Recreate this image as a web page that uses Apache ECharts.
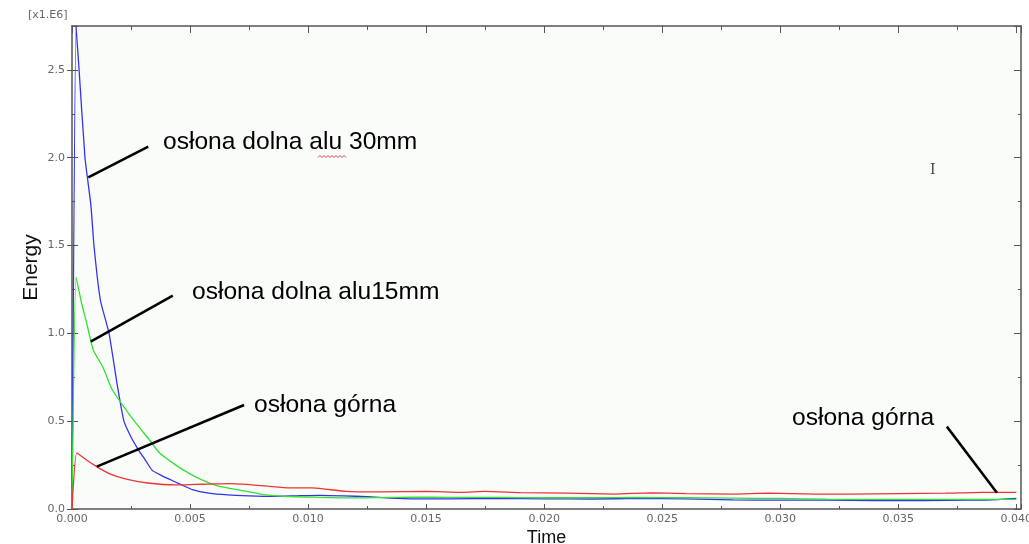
<!DOCTYPE html>
<html>
<head>
<meta charset="utf-8">
<script src="https://cdn.jsdelivr.net/npm/echarts@6/dist/echarts.min.js"></script>
<style>
  html, body { margin: 0; padding: 0; background: #fff; }
  #chart { width: 1029px; height: 544px; }
</style>
</head>
<body>
<div id="chart"></div>
<script>
// energy is in units of 1e6 (axis shows [x1.E6])
const timeBlue = [0, 0.00017, 0.0003, 0.00055, 0.0008, 0.00093, 0.0012, 0.00157, 0.0019, 0.0022, 0.0025, 0.0028, 0.0031, 0.0034, 0.0038, 0.0042, 0.0046, 0.0051, 0.0058, 0.0066, 0.0075, 0.0085, 0.0095, 0.0105, 0.0115, 0.0125, 0.0135, 0.0145, 0.016, 0.018, 0.020, 0.022, 0.024, 0.026, 0.028, 0.030, 0.032, 0.034, 0.036, 0.038, 0.039, 0.040];
const energyBlue = [0, 2.745, 2.5, 2.0, 1.73, 1.5, 1.19, 1.0, 0.72, 0.5, 0.41, 0.34, 0.28, 0.22, 0.19, 0.165, 0.14, 0.11, 0.09, 0.08, 0.075, 0.072, 0.075, 0.078, 0.075, 0.07, 0.062, 0.058, 0.058, 0.06, 0.058, 0.057, 0.06, 0.058, 0.052, 0.05, 0.05, 0.048, 0.048, 0.05, 0.052, 0.06];

const timeGreen = [0, 0.00017, 0.00041, 0.00062, 0.0009, 0.0013, 0.0017, 0.0021, 0.0027, 0.0033, 0.0037, 0.0044, 0.0050, 0.0056, 0.0062, 0.0068, 0.0074, 0.0082, 0.009, 0.010, 0.0116, 0.013, 0.0145, 0.016, 0.018, 0.020, 0.022, 0.024, 0.026, 0.028, 0.030, 0.032, 0.034, 0.036, 0.038, 0.040];
const energyGreen = [0, 1.32, 1.17, 1.06, 0.905, 0.81, 0.68, 0.6, 0.49, 0.39, 0.32, 0.25, 0.2, 0.16, 0.13, 0.115, 0.1, 0.08, 0.072, 0.068, 0.063, 0.065, 0.068, 0.066, 0.066, 0.064, 0.064, 0.066, 0.064, 0.062, 0.06, 0.056, 0.055, 0.055, 0.055, 0.055];

const timeRed = [0, 0.0002, 0.0006, 0.00106, 0.0016, 0.0023, 0.0032, 0.0044, 0.0052, 0.0058, 0.0067, 0.0074, 0.0083, 0.0092, 0.0102, 0.0116, 0.013, 0.015, 0.0165, 0.0175, 0.019, 0.021, 0.023, 0.0245, 0.026, 0.028, 0.0295, 0.0315, 0.033, 0.035, 0.037, 0.0385, 0.040];
const energyRed = [0, 0.32, 0.28, 0.24, 0.2, 0.17, 0.148, 0.137, 0.14, 0.142, 0.145, 0.14, 0.13, 0.12, 0.12, 0.1, 0.097, 0.1, 0.095, 0.1, 0.093, 0.09, 0.085, 0.092, 0.088, 0.085, 0.09, 0.085, 0.085, 0.088, 0.09, 0.095, 0.095];

// annotation pointer lines, [time, energy] start -> end
const pointer30 = [[0.00069, 1.888], [0.00323, 2.063]];
const pointer15 = [[0.00079, 0.953], [0.00427, 1.215]];
const pointerTop1 = [[0.00105, 0.241], [0.00729, 0.592]];
const pointerTop2 = [[0.03918, 0.093], [0.03706, 0.469]];

const zip = (xs, ys) => xs.map((x, i) => [x, ys[i]]);

const chart = echarts.init(document.getElementById("chart"));

const frame = "#555";
const tickLabel = { color: "#666", fontSize: 11, fontFamily: "DejaVu Sans" };

const pointerLine = (pairs) => ({
  silent: true,
  symbol: ["none", "none"],
  label: { show: false },
  lineStyle: { color: "#000", width: 2.5, type: "solid" },
  data: pairs.map((p) => [{ coord: p[0] }, { coord: p[1] }]),
});

// red squiggle under "alu"
const squiggle = [];
for (let x = 318, k = 0; x <= 346; x += 2, k++) {
  squiggle.push([x, k % 2 ? 155.5 : 157.5]);
}

const annotFont = { fontFamily: "Liberation Sans", fontSize: 24.6, fill: "#000", textVerticalAlign: "middle" };

const option = {
  animation: false,
  backgroundColor: "#fff",
  grid: {
    left: 72, right: 8, top: 26, bottom: 35,
    outerBoundsMode: "none", containLabel: false,
    show: true, backgroundColor: "#fafcfa", borderWidth: 0,
  },
  xAxis: [
    {
      type: "value", min: 0, max: 0.0402, interval: 0.005, position: "bottom",
      name: "Time", nameLocation: "middle", nameGap: 20, nameMoveOverlap: false,
      nameTextStyle: { color: "#111", fontSize: 18, fontFamily: "Liberation Sans" },
      axisLine: { show: true, onZero: false, lineStyle: { color: frame, width: 1.5 } },
      axisTick: { show: true, inside: true, length: 5, lineStyle: { color: frame } },
      minorTick: { show: true, splitNumber: 2, length: 3, lineStyle: { color: frame } },
      axisLabel: { ...tickLabel, margin: 5, showMaxLabel: false, formatter: (v) => v.toFixed(3) },
      splitLine: { show: false },
    },
    {
      type: "value", min: 0, max: 0.0402, interval: 0.005, position: "top",
      axisLine: { show: true, onZero: false, lineStyle: { color: frame, width: 1.5 } },
      axisTick: { show: true, inside: true, length: 7, lineStyle: { color: frame } },
      minorTick: { show: true, splitNumber: 2, length: 4, lineStyle: { color: frame } },
      axisLabel: { show: false },
      splitLine: { show: false },
    },
  ],
  yAxis: [
    {
      type: "value", min: 0, max: 2.75, interval: 0.5, position: "left",
      name: "Energy", nameLocation: "middle", nameGap: 30, nameRotate: 90, nameMoveOverlap: false,
      nameTextStyle: { color: "#111", fontSize: 21, fontFamily: "Liberation Sans" },
      axisLine: { show: true, onZero: false, lineStyle: { color: frame, width: 1.5 } },
      axisTick: { show: true, inside: false, length: 5, lineStyle: { color: frame } },
      minorTick: { show: false },
      axisLabel: { ...tickLabel, margin: 7, showMaxLabel: false, formatter: (v) => v.toFixed(1) },
      splitLine: { show: false },
    },
    {
      type: "value", min: 0, max: 2.75, interval: 0.5, position: "left",
      axisLine: { show: false },
      axisTick: { show: true, inside: true, length: 6, lineStyle: { color: frame } },
      minorTick: { show: true, splitNumber: 2, length: 3, lineStyle: { color: frame } },
      axisLabel: { show: false },
      splitLine: { show: false },
    },
    {
      type: "value", min: 0, max: 2.75, interval: 0.5, position: "right",
      axisLine: { show: true, onZero: false, lineStyle: { color: frame, width: 1.5 } },
      axisTick: { show: true, inside: true, length: 7, lineStyle: { color: frame } },
      minorTick: { show: true, splitNumber: 2, length: 3, lineStyle: { color: frame } },
      axisLabel: { show: false },
      splitLine: { show: false },
    },
  ],
  series: [
    {
      name: "osłona dolna alu 30mm", type: "line", showSymbol: false, smooth: 0.15,
      data: zip(timeBlue, energyBlue),
      lineStyle: { color: "#3333ee", width: 1.3 }, itemStyle: { color: "#3333ee" },
      markLine: pointerLine([pointer30]),
    },
    {
      name: "osłona dolna alu15mm", type: "line", showSymbol: false, smooth: 0.15,
      data: zip(timeGreen, energyGreen),
      lineStyle: { color: "#33e033", width: 1.3 }, itemStyle: { color: "#33e033" },
      markLine: pointerLine([pointer15]),
    },
    {
      name: "osłona górna", type: "line", showSymbol: false, smooth: 0.15,
      data: zip(timeRed, energyRed),
      lineStyle: { color: "#ee3333", width: 1.3 }, itemStyle: { color: "#ee3333" },
      markLine: pointerLine([pointerTop1, pointerTop2]),
    },
  ],
  graphic: [
    { type: "text", left: 28, top: 10, style: { text: "[x1.E6]", fill: "#666", fontSize: 11, fontFamily: "DejaVu Sans" } },
    { type: "text", x: 163, y: 142, style: { text: "osłona dolna alu 30mm", ...annotFont } },
    { type: "text", x: 192, y: 292, style: { text: "osłona dolna alu15mm", ...annotFont } },
    { type: "text", x: 254, y: 405, style: { text: "osłona górna", ...annotFont } },
    { type: "text", x: 792, y: 418, style: { text: "osłona górna", ...annotFont } },
    { type: "polyline", shape: { points: squiggle }, style: { stroke: "#e04040", lineWidth: 1, fill: null } },
    { type: "text", x: 930, y: 163, style: { text: "I", fill: "#444", fontSize: 14, fontFamily: "DejaVu Serif" } },
  ],
};

chart.setOption(option);
</script>
</body>
</html>
